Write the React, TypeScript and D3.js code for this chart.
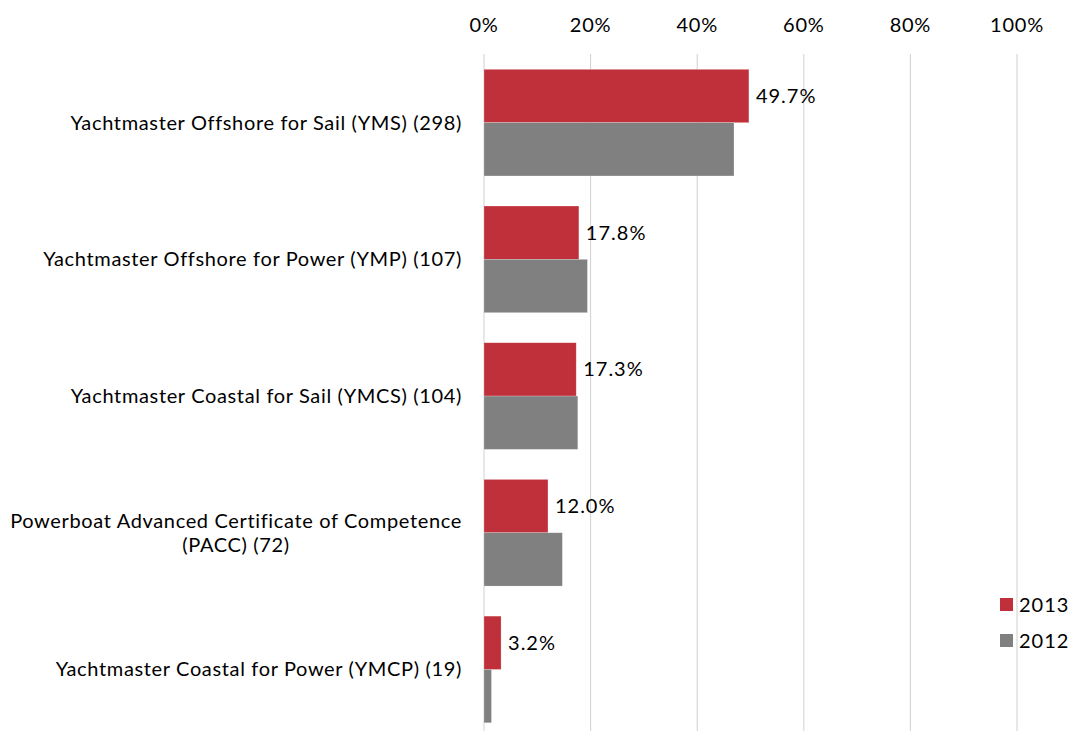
import React, { useEffect, useRef } from "react";
import * as d3 from "d3";

// categories, top to bottom (lines split where the label wraps)
const categories = [
  ["Yachtmaster Offshore for Sail (YMS) (298)"],
  ["Yachtmaster Offshore for Power (YMP) (107)"],
  ["Yachtmaster Coastal for Sail (YMCS) (104)"],
  ["Powerboat Advanced Certificate of Competence", "(PACC) (72)"],
  ["Yachtmaster Coastal for Power (YMCP) (19)"],
];
const seriesNames = ["2013", "2012"];
const values2013 = [0.497, 0.178, 0.173, 0.12, 0.032];
const values2012 = [0.469, 0.194, 0.176, 0.147, 0.014];
const ticks = [0, 0.2, 0.4, 0.6, 0.8, 1];

const colors: Record<string, string> = { "2013": "#c0303a", "2012": "#808080" };
const FONT = "Lato, 'Open Sans', sans-serif";
const FS = 20;

function App() {
  const svgRef = useRef<SVGSVGElement>(null);

  useEffect(() => {
    const svg = d3.select(svgRef.current);
    svg.selectAll("*").remove();

    const x = d3.scaleLinear().domain([0, 1]).range([484, 1017]);
    const y = d3
      .scaleBand<number>()
      .domain(d3.range(categories.length))
      .range([54.3, 737.8])
      .paddingInner(0.22)
      .paddingOuter(0.11);
    const ySub = d3
      .scaleBand<string>()
      .domain(seriesNames)
      .range([0, y.bandwidth()]);

    // gridlines
    svg
      .append("g")
      .selectAll("line")
      .data(ticks)
      .join("line")
      .attr("x1", (d) => x(d))
      .attr("x2", (d) => x(d))
      .attr("y1", 54)
      .attr("y2", 740)
      .attr("stroke", "#d0d0d0")
      .attr("stroke-width", 1);

    // tick labels
    svg
      .append("g")
      .selectAll("text")
      .data(ticks)
      .join("text")
      .attr("x", (d) => x(d))
      .attr("y", 25)
      .attr("dy", "0.35em")
      .attr("text-anchor", "middle")
      .attr("font-family", FONT)
      .attr("font-size", FS)
      .attr("letter-spacing", 0.75)
      .attr("fill", "#000")
      .text((d) => d3.format(".0%")(d));

    // bars
    const rows = categories.map((c, i) => ({
      i,
      vals: [
        { key: "2013", v: values2013[i] },
        { key: "2012", v: values2012[i] },
      ],
    }));

    const groups = svg
      .append("g")
      .selectAll("g")
      .data(rows)
      .join("g")
      .attr("transform", (d) => `translate(0,${y(d.i)})`);

    groups
      .selectAll("rect")
      .data((d) => d.vals)
      .join("rect")
      .attr("x", x(0))
      .attr("y", (d) => ySub(d.key)!)
      .attr("width", (d) => x(d.v) - x(0))
      .attr("height", ySub.bandwidth())
      .attr("fill", (d) => colors[d.key])
      .attr("stroke", "rgba(255,255,255,0.35)")
      .attr("stroke-width", 0.6);

    // data labels for 2013
    groups
      .append("text")
      .attr("x", (d) => x(values2013[d.i]) + 7)
      .attr("y", ySub("2013")! + ySub.bandwidth() / 2)
      .attr("dy", "0.35em")
      .attr("font-family", FONT)
      .attr("font-size", FS)
      .attr("letter-spacing", 1)
      .attr("fill", "#000")
      .text((d) => d3.format(".1%")(values2013[d.i]));

    // category labels
    const lineH = 24;
    categories.forEach((lines, i) => {
      const cy = y(i)! + y.bandwidth() / 2;
      const t = svg
        .append("text")
        .attr("font-family", FONT)
        .attr("font-size", FS)
        .attr("letter-spacing", 0.65)
        .attr("fill", "#000")
        .attr("text-anchor", "middle");
      lines.forEach((ln, j) => {
        t.append("tspan")
          .attr("y", cy + (j - (lines.length - 1) / 2) * lineH)
          .attr("dy", "0.35em")
          .text(ln);
      });
      let maxW = 0;
      t.selectAll<SVGTSpanElement, unknown>("tspan").each(function () {
        maxW = Math.max(maxW, this.getComputedTextLength());
      });
      t.selectAll("tspan").attr("x", 462 - maxW / 2);
    });

    // legend
    const legend = svg
      .append("g")
      .selectAll("g")
      .data(seriesNames)
      .join("g")
      .attr("transform", (d, i) => `translate(1000,${598 + i * 36})`);
    legend
      .append("rect")
      .attr("width", 13)
      .attr("height", 13)
      .attr("fill", (d) => colors[d]);
    legend
      .append("text")
      .attr("x", 19)
      .attr("y", 6.5)
      .attr("dy", "0.35em")
      .attr("font-family", FONT)
      .attr("font-size", FS)
      .attr("letter-spacing", 1)
      .attr("fill", "#000")
      .text((d) => d);
  }, []);

  return (
    <div style={{ position: "absolute", left: 0, top: 0 }}>
      <svg ref={svgRef} width={1073} height={731} style={{ display: "block", background: "#fff" }} />
    </div>
  );
}

export default App;
